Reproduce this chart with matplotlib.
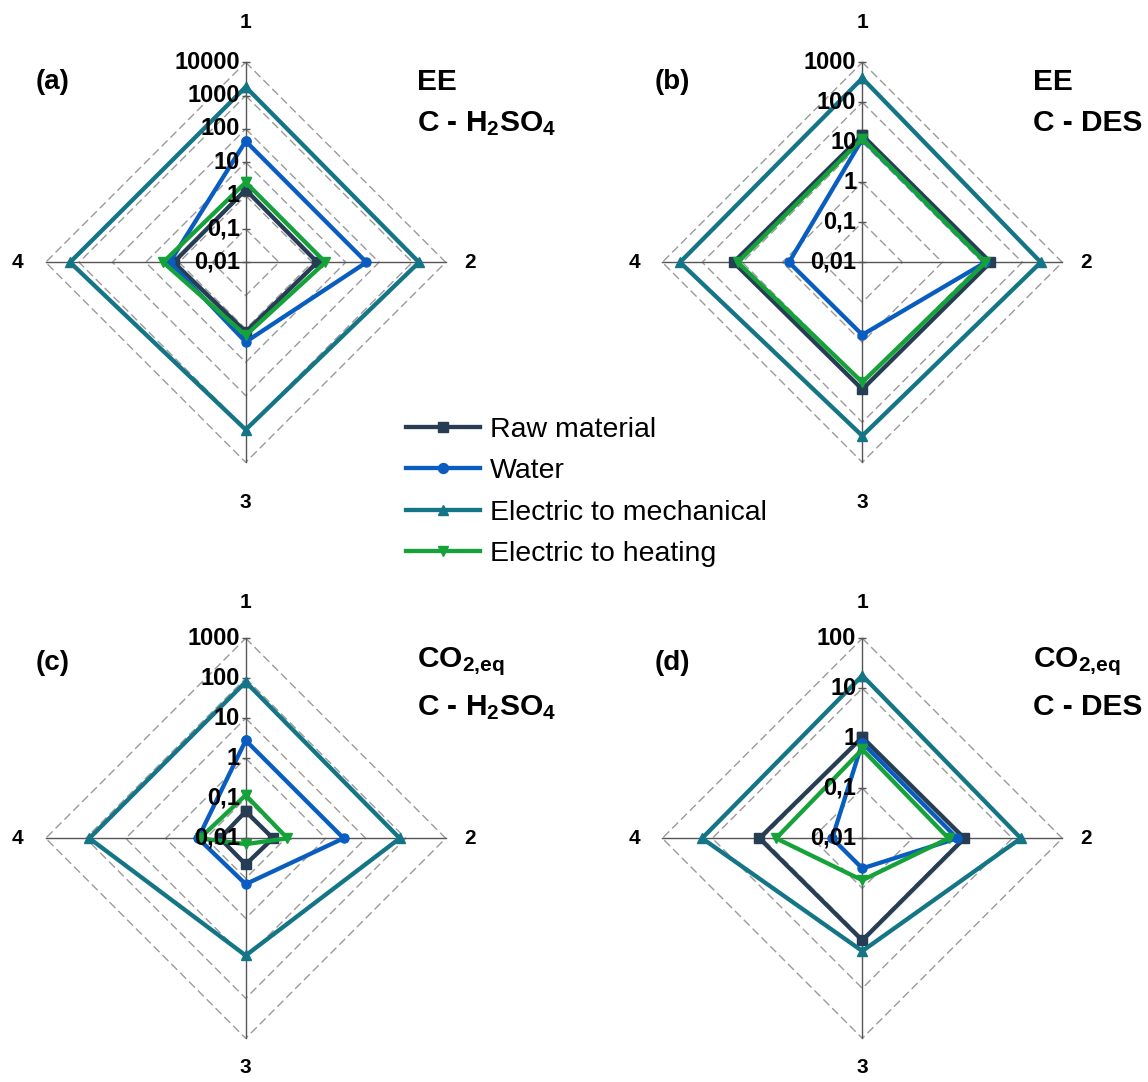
import numpy as np
import matplotlib
matplotlib.use('Agg')
import matplotlib.pyplot as plt

plt.rcParams['font.family'] = ['Liberation Sans', 'DejaVu Sans']
plt.rcParams['mathtext.fontset'] = 'custom'
plt.rcParams['mathtext.rm'] = 'Liberation Sans:bold'
plt.rcParams['mathtext.default'] = 'rm'

# values on axes 1, 2, 3, 4 for each panel
series_names = ['Raw material', 'Water', 'Electric to mechanical', 'Electric to heating']

ee_h2so4_raw = [1.5, 1.4, 1.23, 1.44]
ee_h2so4_water = [43, 42, 2.45, 1.9]
ee_h2so4_mech = [1820, 1580, 1050, 1860]
ee_h2so4_heat = [2.5, 2.45, 1.55, 3.0]

ee_des_raw = [15, 16, 15, 16.5]
ee_des_water = [12, 12, 0.65, 0.68]
ee_des_mech = [400, 290, 218, 360]
ee_des_heat = [12.3, 12, 10, 13]

co2_h2so4_raw = [0.047, 0.048, 0.045, 0.044]
co2_h2so4_water = [2.8, 2.8, 0.14, 0.155]
co2_h2so4_mech = [81, 71, 8.5, 81]
co2_h2so4_heat = [0.12, 0.11, 0.014, 0.14]

co2_des_raw = [1.05, 1.1, 1.1, 1.14]
co2_des_water = [0.81, 0.79, 0.04, 0.04]
co2_des_mech = [18, 14.8, 1.8, 16]
co2_des_heat = [0.6, 0.53, 0.069, 0.53]

axis_labels = ['1', '2', '3', '4']
ticks_a = [0.01, 0.1, 1, 10, 100, 1000, 10000]
ticks_b = [0.01, 0.1, 1, 10, 100, 1000]
ticks_c = [0.01, 0.1, 1, 10, 100, 1000]
ticks_d = [0.01, 0.1, 1, 10, 100]

colors = ['#273d53', '#0a5dc0', '#137585', '#16a23a']
markers = ['s', 'o', '^', 'v']

W, H = 1148, 1082
fig = plt.figure(figsize=(W / 100, H / 100), dpi=100)

# axis directions: 1 top, 2 right, 3 bottom, 4 left
angles = np.deg2rad([90, 0, -90, 180])


def fmt(t):
    return ('%g' % t).replace('.', ',')


def radar(cx, cy, ticks, data, letter, title1, title2, lab_off, letter_pos, title_dy):
    half = 260
    ax = fig.add_axes([(cx - half) / W, 1 - (cy + half) / H, 2 * half / W, 2 * half / H])
    ax.set_xlim(-1.3, 1.3)
    ax.set_ylim(-1.3, 1.3)
    ax.axis('off')
    lo, hi = np.log10(ticks[0]), np.log10(ticks[-1])

    def rad(v):
        return (np.log10(np.asarray(v, dtype=float)) - lo) / (hi - lo)

    ca = np.append(np.cos(angles), np.cos(angles[0]))
    sa = np.append(np.sin(angles), np.sin(angles[0]))
    # dashed diamond grid
    for t in ticks[1:]:
        r = rad(t)
        ax.plot(r * ca, r * sa, color='#9a9a9a', lw=1, dashes=(6, 3), zorder=1)
    # spokes
    ax.plot([-1, 1], [0, 0], color='#555555', lw=1, zorder=2)
    ax.plot([0, 0], [-1, 1], color='#555555', lw=1, zorder=2)
    rt = rad(ticks)
    ax.plot(np.zeros_like(rt), rt, ls='none', marker='_', ms=6, color='#555555', zorder=2)
    for t in ticks:
        ax.text(-0.03, rad(t), fmt(t), ha='right', va='center', fontsize=17,
                fontweight='bold', zorder=6)
    # series
    for i, vals in enumerate(data):
        r = rad(vals)
        r = np.append(r, r[0])
        ax.plot(r * ca, r * sa, color=colors[i], lw=3.1, marker=markers[i], ms=6.5,
                label=series_names[i], zorder=3 + i * 0.1, solid_joinstyle='miter')
    # axis numbers
    for lab, a, d in zip(axis_labels, angles, lab_off):
        ax.text(d * np.cos(a), d * np.sin(a), lab, ha='center', va='center',
                fontsize=15, fontweight='bold')
    ax.text(letter_pos[0], letter_pos[1], letter, ha='center', va='center',
            fontsize=20, fontweight='bold')
    ax.text(0.855, title_dy[0], title1, ha='left', va='center', fontsize=21.5, fontweight='bold')
    ax.text(0.855, title_dy[1], title2, ha='left', va='center', fontsize=21.5, fontweight='bold')
    return ax


top_off = [1.2, 1.12, 1.2, 1.14]
bot_off = [1.18, 1.12, 1.145, 1.14]

ax_a = radar(245.7, 262.3, ticks_a, [ee_h2so4_raw, ee_h2so4_water, ee_h2so4_mech, ee_h2so4_heat],
             '(a)', 'EE', 'C - H$_2$SO$_4$', top_off, (-0.966, 0.9), (0.9, 0.695))
radar(862.3, 262.3, ticks_b, [ee_des_raw, ee_des_water, ee_des_mech, ee_des_heat],
      '(b)', 'EE', 'C - DES', top_off, (-0.95, 0.9), (0.9, 0.695))
radar(245.7, 838.3, ticks_c, [co2_h2so4_raw, co2_h2so4_water, co2_h2so4_mech, co2_h2so4_heat],
      '(c)', 'CO$_{2{,}eq}$', 'C - H$_2$SO$_4$', bot_off, (-0.966, 0.877), (0.885, 0.655))
radar(862.3, 838.3, ticks_d, [co2_des_raw, co2_des_water, co2_des_mech, co2_des_heat],
      '(d)', 'CO$_{2{,}eq}$', 'C - DES', bot_off, (-0.95, 0.877), (0.885, 0.655))

handles, labels = ax_a.get_legend_handles_labels()
fig.legend(handles, labels, loc='center left', bbox_to_anchor=(406 / W, 1 - 492 / H),
           frameon=False, fontsize=20.5, handlelength=2.6, handletextpad=0.35,
           labelspacing=0.53, borderpad=0, borderaxespad=0, markerscale=1.1)

fig.savefig('out.png', dpi=100)
